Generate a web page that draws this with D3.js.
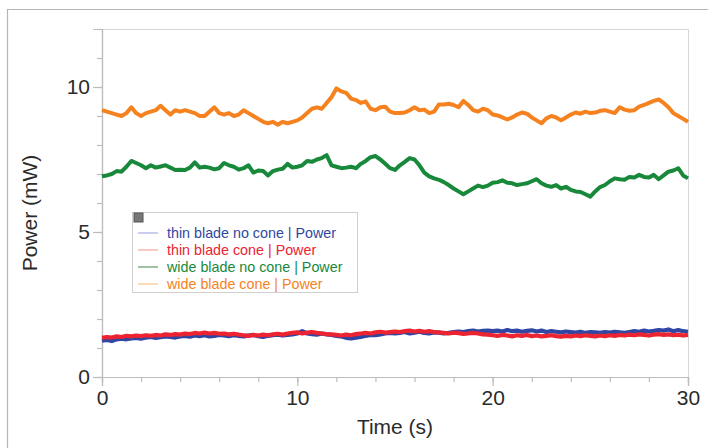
<!DOCTYPE html>
<html>
<head>
<meta charset="utf-8">
<script src="https://cdn.jsdelivr.net/npm/d3@7"></script>
<style>
  html, body { margin: 0; padding: 0; background: #fff; }
  #chart { width: 708px; height: 448px; }
  text { font-family: "Liberation Sans", Arial, Helvetica, sans-serif; }
</style>
</head>
<body>
<div id="chart"></div>
<script>
// Series, one value every 0.25 s from 0 to 30 s
const step = 0.25;

const thinNoCone = [
  1.25,1.28,1.24,1.3,1.32,1.3,1.33,1.35,1.32,1.36,1.38,1.35,1.37,1.4,1.38,1.36,1.4,1.42,1.39,1.43,1.41,
  1.44,1.4,1.42,1.45,1.43,1.41,1.44,1.42,1.4,1.43,1.45,1.41,1.38,1.42,1.44,1.46,1.43,1.45,1.47,1.5,
  1.58,1.5,1.48,1.46,1.5,1.47,1.45,1.42,1.4,1.35,1.33,1.36,1.38,1.42,1.45,1.44,1.47,1.5,1.52,1.5,
  1.52,1.55,1.5,1.53,1.56,1.52,1.5,1.54,1.53,1.5,1.52,1.55,1.57,1.55,1.58,1.6,1.57,1.59,1.6,1.58,
  1.6,1.57,1.62,1.58,1.6,1.56,1.59,1.61,1.57,1.6,1.55,1.58,1.56,1.54,1.57,1.55,1.53,1.56,1.52,1.55,
  1.54,1.52,1.55,1.53,1.56,1.54,1.52,1.55,1.58,1.56,1.6,1.57,1.59,1.62,1.6,1.64,1.58,1.62,1.58,1.56
];

const thinCone = [
  1.35,1.38,1.36,1.4,1.38,1.42,1.4,1.43,1.41,1.44,1.42,1.45,1.43,1.47,1.45,1.48,1.46,1.5,1.48,1.52,1.5,
  1.53,1.5,1.52,1.49,1.5,1.47,1.49,1.46,1.44,1.42,1.45,1.43,1.46,1.44,1.47,1.49,1.46,1.5,1.52,1.54,
  1.5,1.53,1.55,1.52,1.5,1.48,1.47,1.45,1.43,1.46,1.44,1.48,1.5,1.52,1.5,1.54,1.56,1.53,1.55,1.57,
  1.55,1.58,1.6,1.57,1.59,1.56,1.58,1.55,1.54,1.52,1.5,1.53,1.51,1.49,1.5,1.52,1.5,1.47,1.46,1.44,
  1.42,1.45,1.43,1.4,1.44,1.42,1.45,1.41,1.43,1.4,1.42,1.44,1.41,1.39,1.42,1.4,1.43,1.41,1.44,1.42,
  1.4,1.43,1.41,1.44,1.42,1.45,1.43,1.46,1.44,1.47,1.45,1.43,1.46,1.48,1.45,1.47,1.44,1.46,1.43,1.45
];

const wideNoCone = [
  6.92,6.95,7.0,7.1,7.08,7.25,7.45,7.38,7.3,7.2,7.3,7.22,7.26,7.3,7.22,7.14,7.15,7.14,7.22,7.4,7.22,
  7.25,7.22,7.16,7.2,7.38,7.3,7.25,7.15,7.2,7.3,7.05,7.12,7.1,6.95,7.1,7.15,7.18,7.35,7.22,7.25,
  7.3,7.45,7.42,7.5,7.55,7.65,7.3,7.25,7.2,7.22,7.25,7.2,7.35,7.45,7.58,7.62,7.5,7.35,7.2,7.14,
  7.3,7.42,7.55,7.5,7.3,7.05,6.92,6.85,6.8,6.72,6.62,6.5,6.4,6.3,6.4,6.5,6.6,6.55,6.6,6.7,
  6.72,6.78,6.7,6.68,6.62,6.65,6.68,6.75,6.82,6.68,6.6,6.56,6.62,6.5,6.56,6.45,6.4,6.38,6.3,6.22,
  6.4,6.55,6.62,6.75,6.85,6.82,6.8,6.9,6.88,6.97,6.9,6.88,6.97,6.82,6.95,7.08,7.12,7.2,6.95,6.85
];

const wideCone = [
  9.2,9.15,9.1,9.05,9.0,9.1,9.3,9.1,9.0,9.1,9.15,9.2,9.35,9.2,9.05,9.2,9.15,9.2,9.15,9.1,9.0,
  9.0,9.15,9.3,9.1,9.05,9.1,9.0,9.05,9.2,9.1,9.0,8.9,8.8,8.75,8.8,8.7,8.8,8.75,8.8,8.85,
  8.95,9.1,9.25,9.3,9.25,9.45,9.65,9.95,9.85,9.8,9.6,9.55,9.45,9.5,9.25,9.2,9.3,9.32,9.15,9.1,
  9.1,9.12,9.2,9.3,9.2,9.22,9.1,9.15,9.4,9.4,9.42,9.38,9.3,9.52,9.38,9.2,9.15,9.25,9.2,9.05,
  9.02,8.95,8.88,8.95,9.05,9.12,9.08,8.95,8.85,8.75,8.92,9.0,8.95,8.85,8.95,9.05,9.12,9.08,9.15,9.1,
  9.12,9.18,9.2,9.15,9.1,9.3,9.22,9.18,9.2,9.32,9.38,9.45,9.52,9.57,9.45,9.3,9.1,9.0,8.9,8.8
];

const seriesNames = [
  'thin blade no cone | Power',
  'thin blade cone | Power',
  'wide blade no cone | Power',
  'wide blade cone | Power'
];
const seriesColors = ['#2f46a3', '#ec2330', '#18893b', '#f5821f'];
const legendLineColors = ['#b8bde6', '#f7b4b0', '#7fae86', '#fbcfa6'];

const xMajorTicks = [0, 10, 20, 30];
const xMinorTicks = [0, 2, 4, 6, 8, 10, 12, 14, 16, 18, 20, 22, 24, 26, 28, 30];
const yMajorTicks = [0, 5, 10];
const yMinorTicks = [0, 1, 2, 3, 4, 5, 6, 7, 8, 9, 10, 11, 12];

const width = 708, height = 448;
const margin = { top: 29, right: 20, bottom: 71, left: 102 };

const svg = d3.select('#chart').append('svg')
  .attr('width', width)
  .attr('height', height);

// outer border (top and left only visible)
svg.append('path')
  .attr('d', `M7.5,${height} V9.5 H${width}`)
  .attr('fill', 'none')
  .attr('stroke', '#b5b5b5')
  .attr('stroke-width', 1.2);

const x = d3.scaleLinear().domain([0, 30]).range([margin.left, width - margin.right]);
const y = d3.scaleLinear().domain([0, 12]).range([height - margin.bottom, margin.top]);

// plot frame top and right
svg.append('path')
  .attr('d', `M${x(0)},${y(12) + 0.5} H${x(30) + 0.5} V${y(0)}`)
  .attr('fill', 'none')
  .attr('stroke', '#d6d6d6')
  .attr('stroke-width', 1);

const axisColor = '#bdbdbd';
const labelColor = '#2b2b2b';

function styleAxis(g) {
  g.select('.domain').attr('stroke', axisColor).attr('stroke-width', 1.2);
  g.selectAll('.tick line').attr('stroke', axisColor).attr('stroke-width', 1.2);
  g.selectAll('.tick text')
    .attr('fill', labelColor)
    .attr('font-size', '21px');
}

// minor ticks
svg.append('g')
  .attr('transform', `translate(0,${y(0)})`)
  .call(d3.axisBottom(x).tickValues(xMinorTicks).tickSize(5).tickFormat(''))
  .call(styleAxis);
svg.append('g')
  .attr('transform', `translate(${x(0)},0)`)
  .call(d3.axisLeft(y).tickValues(yMinorTicks).tickSize(5).tickFormat(''))
  .call(styleAxis);

// major ticks with labels
svg.append('g')
  .attr('transform', `translate(0,${y(0)})`)
  .call(d3.axisBottom(x).tickValues(xMajorTicks).tickSize(9).tickPadding(4).tickFormat(d3.format('d')))
  .call(styleAxis);
svg.append('g')
  .attr('transform', `translate(${x(0)},0)`)
  .call(d3.axisLeft(y).tickValues(yMajorTicks).tickSize(9).tickPadding(3).tickFormat(d3.format('d')))
  .call(styleAxis);

// axis titles
svg.append('text')
  .attr('x', (x(0) + x(30)) / 2)
  .attr('y', 434)
  .attr('text-anchor', 'middle')
  .attr('fill', labelColor)
  .attr('font-size', '21px')
  .text('Time (s)');

svg.append('text')
  .attr('transform', `translate(37,${(y(0) + y(12)) / 2 + 10}) rotate(-90)`)
  .attr('text-anchor', 'middle')
  .attr('fill', labelColor)
  .attr('font-size', '21px')
  .text('Power (mW)');

// lines
const allSeries = [thinNoCone, thinCone, wideNoCone, wideCone];
const strokeWidths = [4.2, 4.2, 4, 4];
const line = d3.line()
  .x((d, i) => x(i * step))
  .y(d => y(d));

const lines = svg.append('g');
[0, 1, 3, 2].forEach(k => {
  lines.append('path')
    .datum(allSeries[k])
    .attr('fill', 'none')
    .attr('stroke', seriesColors[k])
    .attr('stroke-width', strokeWidths[k])
    .attr('stroke-linejoin', 'round')
    .attr('d', line);
});

// legend
const legend = svg.append('g').attr('transform', 'translate(132,212)');
legend.append('rect')
  .attr('x', 0.5).attr('y', 0.5)
  .attr('width', 225).attr('height', 80)
  .attr('fill', '#fff')
  .attr('stroke', '#d0d0d0');
legend.append('rect')
  .attr('x', 2).attr('y', 1)
  .attr('width', 9).attr('height', 9)
  .attr('fill', '#777')
  .attr('stroke', '#555');

seriesNames.forEach((name, i) => {
  const ly = 21 + i * 17;
  legend.append('line')
    .attr('x1', 6).attr('x2', 26)
    .attr('y1', ly).attr('y2', ly)
    .attr('stroke', legendLineColors[i])
    .attr('stroke-width', 1.5);
  legend.append('text')
    .attr('x', 35)
    .attr('y', ly + 5)
    .attr('fill', seriesColors[i])
    .attr('font-size', '14.3px')
    .text(name);
});
</script>
</body>
</html>
